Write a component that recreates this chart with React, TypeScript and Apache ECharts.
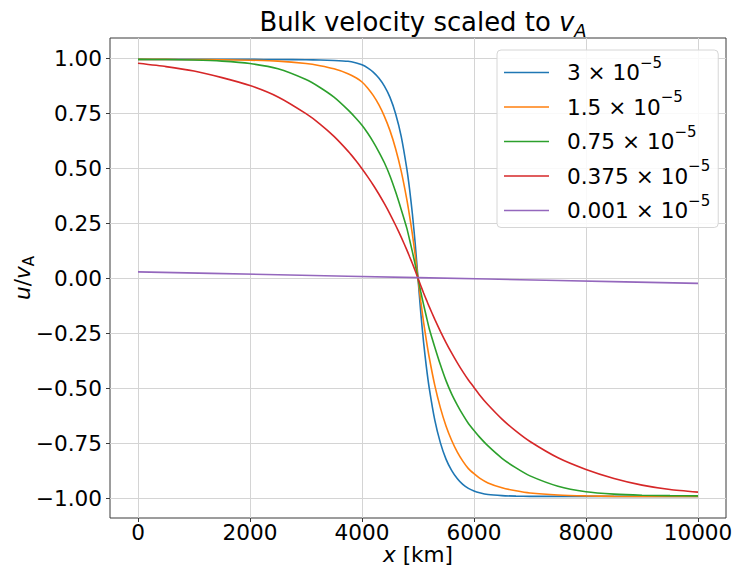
import React, { useEffect, useRef } from "react";
import * as echarts from "echarts";

// Positions along the domain (km)
const xKm = [
  0, 500, 1000, 1500, 2000, 2500, 3000, 3250, 3500, 3750, 3900, 4000, 4100, 4200, 4300, 4400, 4500, 4600,
  4700, 4800, 4850, 4900, 4950, 5000, 5050, 5100, 5150, 5200, 5300, 5400, 5500, 5600, 5700, 5800, 5900,
  6000, 6100, 6250, 6500, 6750, 7000, 7500, 8000, 8500, 9000, 9500, 10000,
];

// u / v_A for each resistivity value
const u3 = [
  0.995, 0.995, 0.995, 0.995, 0.995, 0.994, 0.993, 0.992, 0.99, 0.986, 0.978, 0.97, 0.956, 0.937, 0.91,
  0.873, 0.822, 0.748, 0.645, 0.498, 0.404, 0.292, 0.158, 0.0, -0.158, -0.292, -0.404, -0.498, -0.645,
  -0.748, -0.822, -0.873, -0.91, -0.937, -0.955, -0.967, -0.975, -0.983, -0.988, -0.99, -0.991, -0.991,
  -0.991, -0.991, -0.991, -0.991, -0.991,
];
const u15 = [
  0.995, 0.995, 0.994, 0.993, 0.991, 0.987, 0.976, 0.966, 0.952, 0.93, 0.91, 0.892, 0.865, 0.831, 0.789,
  0.736, 0.671, 0.589, 0.487, 0.359, 0.283, 0.2, 0.105, 0.0, -0.105, -0.2, -0.283, -0.359, -0.487, -0.589,
  -0.671, -0.736, -0.789, -0.831, -0.865, -0.888, -0.908, -0.93, -0.952, -0.966, -0.976, -0.985, -0.989,
  -0.991, -0.992, -0.992, -0.992,
];
const u075 = [
  0.995, 0.994, 0.992, 0.987, 0.976, 0.952, 0.903, 0.867, 0.823, 0.765, 0.725, 0.695, 0.66, 0.62, 0.575,
  0.525, 0.465, 0.393, 0.313, 0.228, 0.175, 0.12, 0.062, 0.0, -0.062, -0.12, -0.175, -0.228, -0.313, -0.393,
  -0.465, -0.525, -0.575, -0.62, -0.66, -0.692, -0.722, -0.762, -0.818, -0.862, -0.898, -0.945, -0.97, -0.981,
  -0.986, -0.988, -0.989,
];
const u0375 = [
  0.977, 0.962, 0.942, 0.912, 0.876, 0.824, 0.748, 0.701, 0.645, 0.578, 0.532, 0.498, 0.462, 0.424, 0.383,
  0.339, 0.292, 0.241, 0.187, 0.129, 0.098, 0.067, 0.034, 0.0, -0.034, -0.067, -0.098, -0.129, -0.187,
  -0.241, -0.292, -0.339, -0.383, -0.424, -0.462, -0.496, -0.53, -0.575, -0.64, -0.695, -0.742, -0.816,
  -0.869, -0.91, -0.94, -0.96, -0.972,
];
// nearly ideal case, sampled coarsely since it is almost flat
const xKmFlat = [0, 2500, 5000, 7500, 10000];
const u0001 = [0.029, 0.016, 0.003, -0.01, -0.023];

// legend mantissas (all × 10^-5)
const mantissas = ["3", "1.5", "0.75", "0.375", "0.001"];
const exponent = "\u22125";
const colors = ["#1f77b4", "#ff7f0e", "#2ca02c", "#d62728", "#9467bd"];

const xTicks = [0, 2000, 4000, 6000, 8000, 10000];
const yTicks = [-1, -0.75, -0.5, -0.25, 0, 0.25, 0.5, 0.75, 1];

const FONT = "DejaVu Sans";
const FS = 21.6;

export default function App() {
  const ref = useRef<HTMLDivElement>(null);

  useEffect(() => {
    const chart = echarts.init(ref.current!, null, { renderer: "svg" });

    const curves = [
      xKm.map((x, i) => [x, u3[i]]),
      xKm.map((x, i) => [x, u15[i]]),
      xKm.map((x, i) => [x, u075[i]]),
      xKm.map((x, i) => [x, u0375[i]]),
      xKmFlat.map((x, i) => [x, u0001[i]]),
    ];
    const names = mantissas.map((m) => `${m} × 10^-5`);
    const txt = { fontFamily: FONT, color: "#000", fontWeight: "normal" as const };

    chart.setOption({
      animation: false,
      backgroundColor: "#ffffff",
      textStyle: { fontFamily: FONT },
      title: {
        text: "{n|Bulk velocity scaled to }{i|v}{sub|A}",
        left: 418,
        top: 0,
        textAlign: "center",
        textStyle: {
          fontWeight: "normal",
          rich: {
            n: { ...txt, fontSize: 25.9, lineHeight: 34 },
            i: { ...txt, fontSize: 25.9, fontStyle: "italic", lineHeight: 34 },
            sub: { ...txt, fontSize: 18, fontStyle: "italic", lineHeight: 34, verticalAlign: "bottom" },
          },
        },
      },
      legend: {
        orient: "vertical",
        left: 497,
        top: 50,
        padding: [5, 8, 6, 7],
        itemGap: 6,
        itemWidth: 45,
        itemHeight: 1.6,
        icon: "rect",
        backgroundColor: "rgba(255,255,255,0.85)",
        borderColor: "#d6d6d6",
        borderWidth: 1,
        borderRadius: 4,
        data: names,
        formatter: (name: string) => {
          const idx = names.indexOf(name);
          return `{n|${mantissas[idx]} × 10}{s|${exponent}}`;
        },
        textStyle: {
          rich: {
            n: { ...txt, fontSize: FS, lineHeight: 35, padding: [0, 0, 0, 13] },
            s: { ...txt, fontSize: 15, lineHeight: 24, verticalAlign: "top" },
          },
        },
      },
      grid: {
        left: 110,
        right: 9,
        top: 38,
        bottom: 56,
        show: true,
        borderColor: "#3a3a3a",
        borderWidth: 1,
        outerBoundsMode: "none",
        containLabel: false,
      },
      xAxis: {
        type: "value",
        position: "bottom",
        min: -500,
        max: 10500,
        axisLine: { show: false, onZero: false },
        axisTick: { show: true, length: 4, customValues: xTicks, lineStyle: { color: "#3a3a3a" } },
        axisLabel: {
          customValues: xTicks,
          fontFamily: FONT,
          fontSize: FS,
          color: "#000",
          margin: 2,
          lineHeight: 24,
          formatter: (v: number) => String(v),
        },
        splitLine: { show: true, lineStyle: { color: "#d4d4d4", width: 1 } },
        name: "{i|x}{n| [km]}",
        nameLocation: "middle",
        nameGap: 24,
        nameMoveOverlap: false,
        nameTextStyle: {
          rich: {
            i: { ...txt, fontSize: FS, fontStyle: "italic", lineHeight: 24 },
            n: { ...txt, fontSize: FS, lineHeight: 24 },
          },
        },
      },
      yAxis: {
        type: "value",
        position: "left",
        min: -1.0895,
        max: 1.092,
        axisLine: { show: false, onZero: false },
        axisTick: { show: true, length: 4, customValues: yTicks, lineStyle: { color: "#3a3a3a" } },
        axisLabel: {
          customValues: yTicks,
          fontFamily: FONT,
          fontSize: FS,
          color: "#000",
          margin: 8,
          formatter: (v: number) => v.toFixed(2).replace("-", "\u2212"),
        },
        splitLine: { show: true, lineStyle: { color: "#d4d4d4", width: 1 } },
        name: "{i|u}{n|/}{i|v}{sub|A}",
        nameLocation: "middle",
        nameRotate: 90,
        nameGap: 74,
        nameMoveOverlap: false,
        nameTextStyle: {
          rich: {
            i: { ...txt, fontSize: FS, fontStyle: "italic", lineHeight: 28 },
            n: { ...txt, fontSize: FS, lineHeight: 28 },
            sub: { ...txt, fontSize: 15, lineHeight: 28, verticalAlign: "bottom" },
          },
        },
      },
      series: curves.map((data, i) => ({
        name: names[i],
        type: "line",
        data,
        symbol: "none",
        smooth: 0.2,
        lineStyle: { color: colors[i], width: 1.6 },
        itemStyle: { color: colors[i] },
      })),
    });

    return () => chart.dispose();
  }, []);

  return (
    <div
      ref={ref}
      style={{ position: "fixed", left: 0, top: 0, width: 735, height: 574, background: "#fff" }}
    />
  );
}
